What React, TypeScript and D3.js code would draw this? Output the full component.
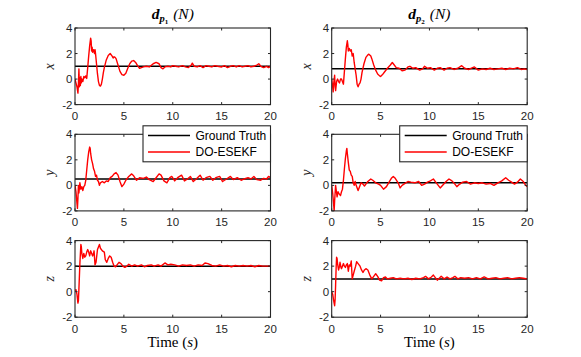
import React from "react";
import * as d3 from "d3";

type Pt = [number, number];

const xTicks = [0, 5, 10, 15, 20];
const yTicks = [-2, 0, 2, 4];
const seriesNames = ["Ground Truth", "DO-ESEKF"];
const rowLabels = ["x", "y", "z"];

const truthP1 = [1.0, 0.5, 2.0];
const truthP2 = [0.8, 0.2, 1.0];

const xP1: Pt[] = [[0,0.0],[0.1,-0.3],[0.2,-0.6],[0.3,-1.1],[0.35,-0.4],[0.4,0.8],[0.45,-0.6],[0.5,0.1],[0.55,-0.5],[0.6,0.2],[0.65,-0.3],[0.7,0.0],[0.8,-0.2],[0.9,0.2],[1.0,0.1],[1.1,0.25],[1.2,0.05],[1.3,0.9],[1.4,1.8],[1.5,2.6],[1.6,3.2],[1.65,3.0],[1.7,2.2],[1.75,2.5],[1.8,2.1],[1.9,2.3],[2.0,2.0],[2.05,2.3],[2.1,2.0],[2.2,1.2],[2.3,0.4],[2.4,-0.2],[2.5,-0.5],[2.6,-0.55],[2.7,-0.4],[2.8,0.0],[2.9,0.5],[3.0,0.9],[3.2,1.5],[3.4,1.85],[3.6,2.0],[3.8,1.8],[3.9,1.65],[4.0,1.75],[4.1,1.7],[4.2,1.6],[4.4,1.1],[4.6,0.6],[4.8,0.35],[5.0,0.3],[5.2,0.45],[5.4,0.85],[5.6,1.2],[5.8,1.4],[6.0,1.45],[6.2,1.3],[6.4,1.05],[6.6,0.85],[6.8,0.9],[7.0,0.95],[7.3,1.0],[7.6,0.95],[8.0,1.2],[8.3,1.3],[8.6,1.2],[8.8,0.9],[9.0,0.8],[9.2,0.95],[9.5,1.0],[9.8,0.95],[10.0,1.05],[10.3,1.0],[10.6,0.95],[11.0,1.05],[11.3,0.95],[11.6,0.9],[11.9,1.1],[12.0,1.25],[12.2,1.0],[12.5,0.95],[12.8,1.05],[13.1,0.9],[13.4,1.05],[13.7,1.0],[14.0,0.95],[14.3,1.05],[14.6,1.0],[15.0,0.95],[15.3,1.05],[15.6,0.9],[15.9,1.0],[16.2,1.05],[16.5,0.95],[16.8,1.05],[17.1,0.95],[17.4,1.0],[17.7,1.05],[18.0,0.95],[18.3,1.0],[18.6,1.1],[18.8,1.2],[19.0,1.0],[19.3,0.9],[19.6,1.0],[19.8,0.9],[20.0,1.0]];

const yP1: Pt[] = [[0,0.0],[0.1,-0.5],[0.2,-1.4],[0.25,-1.8],[0.3,-1.0],[0.35,0.0],[0.4,-0.6],[0.5,0.2],[0.6,-0.3],[0.7,-0.1],[0.8,-0.4],[0.9,-0.1],[1.0,0.0],[1.1,0.4],[1.2,1.2],[1.3,2.0],[1.4,2.6],[1.5,3.0],[1.55,2.9],[1.6,2.5],[1.7,2.0],[1.8,1.7],[1.9,1.3],[2.0,1.1],[2.1,0.7],[2.2,0.8],[2.3,0.4],[2.4,0.3],[2.5,0.0],[2.6,0.2],[2.8,0.3],[3.0,0.2],[3.2,0.35],[3.4,0.3],[3.6,0.6],[3.8,0.7],[4.0,0.9],[4.2,1.0],[4.4,0.8],[4.6,0.3],[4.8,-0.1],[5.0,0.1],[5.2,0.4],[5.5,0.7],[5.8,0.9],[6.0,0.75],[6.3,0.4],[6.6,0.6],[7.0,0.55],[7.3,0.65],[7.6,0.45],[8.0,0.3],[8.3,0.6],[8.6,0.9],[8.8,0.8],[9.1,0.35],[9.4,0.2],[9.7,0.6],[9.9,0.7],[10.2,0.35],[10.5,0.6],[10.9,0.8],[11.2,0.35],[11.5,0.5],[11.8,0.7],[12.1,0.3],[12.4,0.5],[12.8,0.8],[13.1,0.4],[13.4,0.6],[13.8,0.7],[14.1,0.4],[14.4,0.6],[14.8,0.7],[15.1,0.3],[15.5,0.5],[15.9,0.7],[16.2,0.45],[16.6,0.6],[17.0,0.4],[17.3,0.5],[17.7,0.6],[18.0,0.5],[18.3,0.7],[18.6,0.45],[19.0,0.4],[19.3,0.55],[19.6,0.5],[19.8,0.7],[20.0,0.6]];

const zP1: Pt[] = [[0,0.1],[0.1,0.15],[0.2,-0.2],[0.3,-0.9],[0.35,-0.7],[0.4,0.2],[0.5,2.2],[0.6,3.7],[0.65,3.5],[0.7,3.0],[0.8,2.6],[0.9,3.0],[1.0,2.7],[1.1,2.8],[1.2,3.1],[1.3,3.3],[1.4,3.1],[1.5,2.8],[1.6,3.2],[1.7,3.0],[1.8,2.8],[1.9,3.0],[1.95,3.2],[2.05,2.1],[2.15,2.3],[2.3,3.3],[2.4,3.5],[2.5,3.7],[2.6,3.4],[2.8,3.2],[3.0,3.1],[3.1,2.5],[3.25,2.3],[3.4,2.6],[3.55,2.8],[3.7,2.7],[3.85,2.3],[4.0,2.0],[4.15,1.95],[4.3,2.1],[4.5,2.3],[4.7,2.2],[4.9,2.0],[5.1,1.9],[5.3,2.0],[5.5,2.15],[5.8,2.0],[6.1,2.1],[6.4,2.0],[6.8,2.1],[7.1,1.95],[7.4,2.05],[7.8,2.1],[8.1,2.0],[8.5,2.1],[8.8,2.0],[9.2,2.25],[9.5,2.1],[9.8,2.15],[10.2,2.1],[10.6,2.0],[11.0,2.1],[11.4,2.05],[11.8,2.1],[12.2,2.0],[12.6,2.1],[13.0,2.05],[13.3,2.25],[13.6,2.2],[14.0,2.05],[14.4,2.0],[14.8,2.1],[15.2,2.0],[15.6,2.05],[16.0,1.95],[16.4,2.05],[16.8,2.0],[17.2,2.05],[17.6,2.0],[18.0,2.05],[18.4,1.95],[18.8,2.05],[19.2,2.0],[19.6,2.0],[20.0,2.0]];

const xP2: Pt[] = [[0,0.0],[0.1,-0.6],[0.15,-1.0],[0.2,-0.4],[0.3,0.3],[0.35,-0.6],[0.4,-0.9],[0.5,-0.2],[0.6,0.0],[0.7,-0.2],[0.8,-0.3],[0.9,0.0],[1.0,0.0],[1.1,-0.2],[1.2,-0.4],[1.3,0.6],[1.4,1.6],[1.5,2.5],[1.6,3.0],[1.65,2.7],[1.7,2.2],[1.8,2.4],[1.9,2.2],[2.0,2.3],[2.1,1.8],[2.2,2.0],[2.3,1.3],[2.4,0.8],[2.5,0.3],[2.6,-0.4],[2.7,-0.6],[2.8,-0.4],[2.9,-0.3],[3.0,0.0],[3.1,0.5],[3.3,1.2],[3.5,1.7],[3.7,1.9],[3.8,1.95],[4.0,1.8],[4.1,1.6],[4.3,1.1],[4.5,0.7],[4.7,0.4],[4.9,0.25],[5.0,0.2],[5.2,0.35],[5.4,0.55],[5.7,0.85],[6.0,1.1],[6.2,1.3],[6.4,1.1],[6.6,0.9],[6.9,0.85],[7.2,0.65],[7.5,0.7],[7.8,0.95],[8.0,1.0],[8.3,0.85],[8.6,0.9],[9.0,0.7],[9.3,0.8],[9.5,1.0],[9.8,0.85],[10.1,0.9],[10.5,0.7],[10.8,0.85],[11.1,0.9],[11.5,0.7],[11.8,0.85],[12.1,0.9],[12.5,0.75],[12.9,0.85],[13.3,1.05],[13.6,0.85],[14.0,0.75],[14.3,0.85],[14.6,0.95],[15.0,0.7],[15.4,0.8],[15.8,0.75],[16.2,0.85],[16.6,0.75],[17.0,0.8],[17.4,0.85],[17.8,0.75],[18.2,0.85],[18.6,0.8],[19.0,0.9],[19.4,0.75],[19.7,0.8],[20.0,0.75]];

const yP2: Pt[] = [[0,0.0],[0.1,-0.6],[0.2,-1.5],[0.25,-2.0],[0.3,-1.2],[0.4,0.0],[0.5,-0.6],[0.55,-0.9],[0.65,-0.5],[0.7,-0.6],[0.8,-0.7],[0.9,-0.8],[1.0,-0.5],[1.1,-0.3],[1.2,0.4],[1.3,1.3],[1.4,2.1],[1.5,2.7],[1.55,2.9],[1.6,2.5],[1.7,1.8],[1.8,1.2],[1.9,1.1],[2.0,0.8],[2.1,0.7],[2.2,0.2],[2.3,0.0],[2.4,0.3],[2.5,0.0],[2.7,-0.4],[2.85,-0.1],[3.0,0.2],[3.2,0.1],[3.35,-0.05],[3.5,0.1],[3.7,0.3],[4.0,0.5],[4.2,0.4],[4.5,0.2],[4.8,0.1],[5.0,0.0],[5.3,-0.3],[5.6,-0.1],[5.9,0.3],[6.1,0.55],[6.3,0.7],[6.5,0.55],[6.8,0.2],[7.0,-0.2],[7.2,0.0],[7.5,0.15],[7.8,0.3],[8.1,0.25],[8.5,0.2],[8.9,0.3],[9.2,0.0],[9.5,0.1],[9.8,0.25],[10.1,0.35],[10.4,0.5],[10.7,0.2],[10.9,0.0],[11.1,-0.2],[11.4,0.05],[11.7,0.3],[12.0,0.5],[12.3,0.35],[12.6,0.1],[12.8,-0.1],[13.1,0.1],[13.4,0.25],[13.8,0.3],[14.2,0.1],[14.6,0.2],[15.0,0.15],[15.4,0.2],[15.8,0.1],[16.2,0.15],[16.6,0.0],[17.0,0.2],[17.4,0.35],[17.8,0.6],[18.1,0.4],[18.4,0.25],[18.7,0.1],[19.0,0.25],[19.3,0.5],[19.6,0.3],[19.8,0.05],[20.0,-0.1]];

const zP2: Pt[] = [[0,0.0],[0.1,-0.2],[0.2,-0.7],[0.3,-1.1],[0.35,-0.6],[0.4,0.5],[0.45,1.8],[0.5,2.7],[0.55,2.6],[0.6,2.2],[0.7,1.7],[0.8,2.0],[0.85,2.3],[0.95,1.9],[1.0,1.8],[1.1,2.0],[1.2,2.2],[1.3,2.0],[1.4,1.9],[1.5,2.1],[1.6,2.2],[1.7,1.6],[1.8,2.1],[1.9,2.0],[2.0,2.4],[2.1,1.0],[2.2,1.3],[2.3,1.6],[2.45,2.0],[2.55,2.35],[2.7,2.2],[2.9,2.0],[3.05,1.7],[3.2,1.5],[3.35,1.7],[3.5,1.8],[3.7,1.7],[3.9,1.3],[4.1,1.0],[4.3,1.2],[4.5,1.4],[4.7,1.2],[4.9,0.9],[5.1,0.85],[5.3,1.1],[5.5,1.15],[5.7,1.0],[6.0,1.05],[6.3,1.1],[6.6,1.0],[7.0,1.05],[7.4,1.0],[7.8,1.05],[8.2,0.95],[8.6,1.05],[9.0,1.0],[9.4,1.1],[9.6,1.2],[9.9,1.0],[10.2,1.15],[10.4,1.3],[10.6,1.1],[10.8,0.9],[11.0,1.05],[11.2,1.2],[11.5,1.0],[11.8,1.15],[12.1,1.0],[12.4,1.1],[12.6,1.2],[12.9,1.0],[13.2,1.1],[13.6,1.05],[14.0,1.1],[14.4,1.0],[14.8,1.1],[15.2,1.0],[15.6,1.15],[16.0,1.0],[16.4,1.05],[16.8,1.1],[17.2,1.0],[17.6,1.05],[18.0,1.1],[18.4,1.0],[18.8,1.05],[19.2,1.1],[19.6,1.05],[20.0,1.0]];

const estP1 = [xP1, yP1, zP1];
const estP2 = [xP2, yP2, zP2];

const W = 581;
const H = 357;
const colX = [75, 331.7];
const rowY = [28, 134.3, 240.6];
const PW = 195.5;
const PH = 76.6;
const AX = "#262626";
const TICK_FONT = "'Liberation Sans', Arial, Helvetica, sans-serif";
const SERIF = "'Liberation Serif', 'DejaVu Serif', serif";

function Panel({ id, x0, y0, truth, est, label, legend, bottom }: {
  id: string; x0: number; y0: number; truth: number; est: Pt[]; label: string; legend: boolean; bottom: boolean;
}) {
  const xs = d3.scaleLinear().domain([0, 20]).range([x0, x0 + PW]);
  const ys = d3.scaleLinear().domain([-2, 4]).range([y0 + PH, y0]);
  const line = d3.line<Pt>().x((d) => xs(d[0])).y((d) => ys(d[1]));
  const tl = 2.5;
  const lx = legend ? x0 + PW - 127.5 : 0;
  const ly = y0 - 8.5;
  return (
    <g>
      <defs>
        <clipPath id={id}>
          <rect x={x0} y={y0} width={PW} height={PH} />
        </clipPath>
      </defs>
      <g clipPath={`url(#${id})`}>
        <line x1={xs(0)} x2={xs(20)} y1={ys(truth)} y2={ys(truth)} stroke="#000" strokeWidth={1.5} />
        <path d={line(est) || ""} fill="none" stroke="#ff0000" strokeWidth={1.4} strokeLinejoin="round" />
      </g>
      <rect x={x0} y={y0} width={PW} height={PH} fill="none" stroke={AX} strokeWidth={1.1} />
      {xTicks.map((t) => (
        <g key={"x" + t}>
          <line x1={xs(t)} x2={xs(t)} y1={y0 + PH} y2={y0 + PH - tl} stroke={AX} strokeWidth={1} />
          <line x1={xs(t)} x2={xs(t)} y1={y0} y2={y0 + tl} stroke={AX} strokeWidth={1} />
          <text x={xs(t)} y={y0 + PH + 15.3} textAnchor="middle" fontFamily={TICK_FONT} fontSize={11.5} fill={AX}>{t}</text>
        </g>
      ))}
      {yTicks.map((t) => (
        <g key={"y" + t}>
          <line x1={x0} x2={x0 + tl} y1={ys(t)} y2={ys(t)} stroke={AX} strokeWidth={1} />
          <line x1={x0 + PW} x2={x0 + PW - tl} y1={ys(t)} y2={ys(t)} stroke={AX} strokeWidth={1} />
          <text x={x0 - 2.5} y={ys(t) + 4} textAnchor="end" fontFamily={TICK_FONT} fontSize={11.5} fill={AX}>{t}</text>
        </g>
      ))}
      <text transform={`translate(${x0 - 21},${y0 + PH / 2}) rotate(-90)`} textAnchor="middle" fontFamily={SERIF} fontStyle="italic" fontSize={14} fill={AX}>{label}</text>
      {bottom && (
        <text x={x0 + PW / 2} y={y0 + PH + 29.5} textAnchor="middle" fontFamily={SERIF} fontSize={15} fill="#000">
          Time (<tspan fontStyle="italic">s</tspan>)
        </text>
      )}
      {legend && (
        <g>
          <rect x={lx} y={ly} width={127.5} height={36} fill="#fff" stroke={AX} strokeWidth={1.1} />
          <line x1={lx + 5} x2={lx + 47} y1={ly + 9.7} y2={ly + 9.7} stroke="#000" strokeWidth={1.5} />
          <line x1={lx + 5} x2={lx + 47} y1={ly + 26.3} y2={ly + 26.3} stroke="#ff0000" strokeWidth={1.5} />
          <text x={lx + 52.5} y={ly + 14} fontFamily={TICK_FONT} fontSize={12} fill="#000">{seriesNames[0]}</text>
          <text x={lx + 52.5} y={ly + 30.5} fontFamily={TICK_FONT} fontSize={12} fill="#000">{seriesNames[1]}</text>
        </g>
      )}
    </g>
  );
}

function Title({ cx, sub }: { cx: number; sub: string }) {
  return (
    <text x={cx} y={19} textAnchor="middle" fontFamily={SERIF} fontSize={15.5} fill="#000">
      <tspan fontWeight="bold" fontStyle="italic">d</tspan>
      <tspan fontWeight="bold" fontStyle="italic" fontSize={10.5} dy={3}>p</tspan>
      <tspan fontWeight="bold" fontSize={7} dy={1.5}>{sub}</tspan>
      <tspan fontStyle="italic" dy={-4.5} dx={5}>(N)</tspan>
    </text>
  );
}

export default function App() {
  return (
    <svg width={W} height={H} style={{ position: "absolute", left: 0, top: 0, background: "#fff" }}>
      <rect width={W} height={H} fill="#fff" />
      <Title cx={colX[0] + PW / 2} sub="1" />
      <Title cx={colX[1] + PW / 2} sub="2" />
      {rowY.map((y, r) => (
        <React.Fragment key={r}>
          <Panel id={`c0r${r}`} x0={colX[0]} y0={y} truth={truthP1[r]} est={estP1[r]} label={rowLabels[r]} legend={r === 1} bottom={r === 2} />
          <Panel id={`c1r${r}`} x0={colX[1]} y0={y} truth={truthP2[r]} est={estP2[r]} label={rowLabels[r]} legend={r === 1} bottom={r === 2} />
        </React.Fragment>
      ))}
    </svg>
  );
}
